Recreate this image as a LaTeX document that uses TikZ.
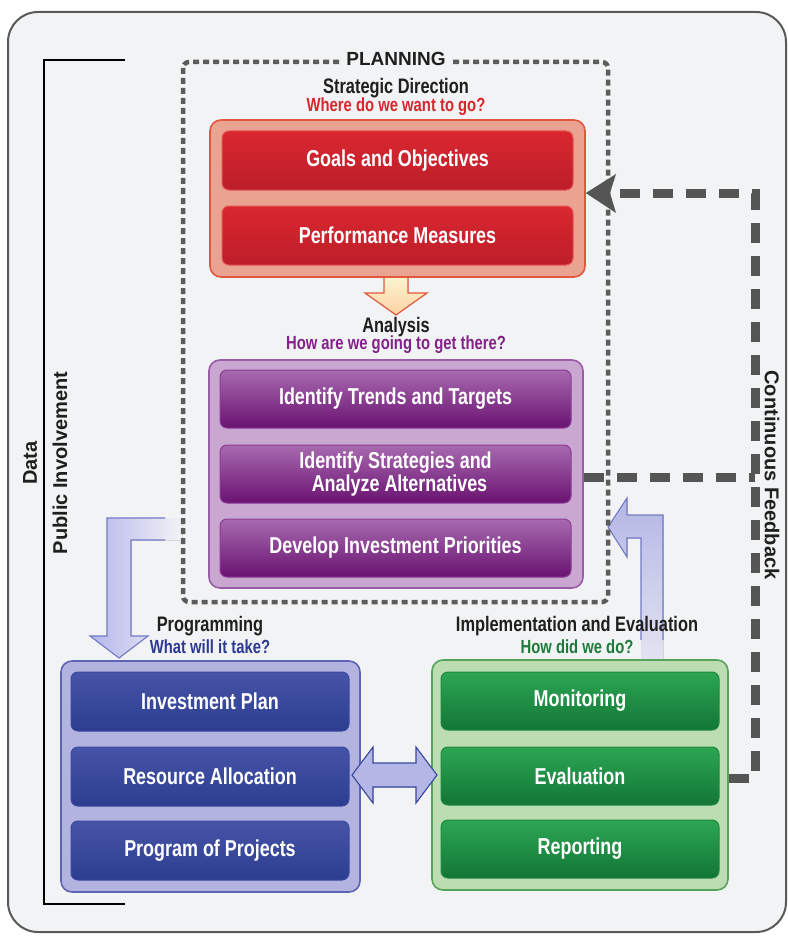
\documentclass[tikz,border=0pt]{standalone}
\usepackage{fontspec}
\setmainfont{Liberation Sans}
\newfontfamily\cond[FakeStretch=0.78]{Liberation Sans}
\usetikzlibrary{calc}
\definecolor{bg}{HTML}{F2F3F4}
\definecolor{frame}{HTML}{5A5A5A}
\definecolor{dotc}{HTML}{5C5C5C}
\definecolor{fbc}{HTML}{555555}
\definecolor{redfill}{HTML}{EAA391}
\definecolor{redborder}{HTML}{E2583F}
\definecolor{redtop}{HTML}{DA2730}
\definecolor{redbot}{HTML}{BC1E29}
\definecolor{redline}{HTML}{E65454}
\definecolor{redtxt}{HTML}{D8262E}
\definecolor{purfill}{HTML}{C9A7D1}
\definecolor{purborder}{HTML}{9A5CA7}
\definecolor{purtop}{HTML}{A76AAF}
\definecolor{purbot}{HTML}{6A1271}
\definecolor{purline}{HTML}{8C3C96}
\definecolor{purtxt}{HTML}{85218B}
\definecolor{blufill}{HTML}{B3B3DF}
\definecolor{bluborder}{HTML}{5F63B6}
\definecolor{blutop}{HTML}{4654A8}
\definecolor{blubot}{HTML}{2C3D8F}
\definecolor{bluline}{HTML}{3A48A0}
\definecolor{blutxt}{HTML}{2D3A94}
\definecolor{grnfill}{HTML}{BBDDB1}
\definecolor{grnborder}{HTML}{56A45A}
\definecolor{grntop}{HTML}{2CA653}
\definecolor{grnbot}{HTML}{127636}
\definecolor{grnline}{HTML}{1E8A40}
\definecolor{grntxt}{HTML}{1E7B3B}
\definecolor{lav}{HTML}{B4B6E6}
\definecolor{lavline}{HTML}{7479C6}
\definecolor{cream}{HTML}{FAF8D2}
\tikzset{
  ttl/.style={font=\cond\bfseries\fontsize{21}{23}\selectfont, text=black!88, inner sep=0pt},
  subttl/.style={font=\cond\bfseries\fontsize{19}{21}\selectfont, inner sep=0pt},
  sidetxt/.style={font=\bfseries\fontsize{20}{22}\selectfont, text=black!88, inner sep=0pt},
  boxtxt/.style={font=\cond\bfseries\fontsize{23}{23}\selectfont, text=white, align=center,
     rounded corners=7pt, line width=1pt, inner sep=0pt},
  redin/.style={boxtxt, draw=redline, top color=redtop, bottom color=redbot},
  purin/.style={boxtxt, draw=purline, top color=purtop, bottom color=purbot},
  bluin/.style={boxtxt, draw=bluline, top color=blutop, bottom color=blubot},
  grnin/.style={boxtxt, draw=grnline, top color=grntop, bottom color=grnbot},
  outerbox/.style={rounded corners=11pt, line width=1.6pt, inner sep=0pt},
  fb/.style={draw=fbc, line width=9pt, dash pattern=on 20pt off 13pt},
  dotbox/.style={draw=dotc, line width=4.5pt, dash pattern=on 6pt off 4pt, rounded corners=6pt},
}
\begin{document}
\begin{tikzpicture}[x=1pt,y=-1pt]
\useasboundingbox (0,0) rectangle (787,936);
\fill[white] (0,0) rectangle (787,936);
% frame
\draw[frame, line width=2pt, fill=bg, rounded corners=30pt] (8,12) rectangle (786,932);

% left bracket
\coordinate (brT) at (125,60);
\coordinate (brB) at (125,904);
\draw[black, line width=2.2pt] (brT) -- (44,60) -- (44,904) -- (brB);
\node[sidetxt, rotate=90] (data) at (30,463) {Data};
\node[sidetxt, rotate=90] (pubinv) at (60,463) {Public Involvement};

% down arrow (red -> analysis)
\filldraw[draw=redborder, line width=1.2pt, top color=cream, bottom color=orange!35!white]
  (384,272) -- (384,293) -- (365,293) -- (396,315) -- (427,293) -- (408,293) -- (408,272);

% red group
\node[outerbox, fill=redfill, draw=redborder, minimum width=375pt, minimum height=157pt] (redbox) at (397.5,198.5) {};
\node[redin, minimum width=351pt, minimum height=59pt] (goals) at (397.5,160.5) {Goals and Objectives};
\node[redin, minimum width=351pt, minimum height=59pt] (perf) at (397.5,235.5) {Performance Measures};

% purple group
\node[outerbox, fill=purfill, draw=purborder, minimum width=374pt, minimum height=228pt] (purbox) at (396,474) {};
\node[purin, minimum width=351pt, minimum height=58pt] (trends) at (395.5,399) {Identify Trends and Targets};
\node[purin, minimum width=351pt, minimum height=58pt] (strat) at (395.5,474) {Identify Strategies and\\\hspace*{8pt}Analyze Alternatives};
\node[purin, minimum width=351pt, minimum height=58pt] (invest) at (395.5,548) {Develop Investment Priorities};

% left bent arrow (analysis -> programming)
\fill[left color=lav!90!blue!80!white, right color=bg]
  (182,518) -- (107,518) -- (107,636) -- (90,636) -- (119,658) -- (148,636) -- (131,636) -- (131,540) -- (182,540) -- cycle;
\draw[lavline, line width=1.1pt, line join=miter]
  (165,518) -- (107,518) -- (107,636) -- (90,636) -- (119,658) -- (148,636) -- (131,636) -- (131,540) -- (165,540);

% right bent arrow (implementation -> analysis)
\fill[top color=lav, bottom color=lav!25!bg]
  (608,527) -- (627,498) -- (627,515) -- (663,515) -- (663,660) -- (641,660) -- (641,538) -- (627,538) -- (627,557) -- cycle;
\draw[lavline, line width=1.1pt, line join=miter]
  (663,640) -- (663,515) -- (627,515) -- (627,498) -- (608,527) -- (627,557) -- (627,538) -- (641,538) -- (641,640);

% planning dotted box
\draw[dotbox] (183,62) rectangle (608,602);
\node[font=\bfseries\fontsize{19}{21}\selectfont, text=black!88, fill=bg, inner xsep=5pt, inner ysep=1pt] (planning) at (396,59) {PLANNING};
\node[ttl] (stratdir) at (396,88) {Strategic Direction};
\node[subttl, text=redtxt] (stratq) at (396,107) {Where do we want to go?};
\node[ttl] (analysis) at (396,327) {Analysis};
\node[subttl, text=purtxt] (analysisq) at (396,345) {How are we going to get there?};

% labels bottom
\node[ttl] (prog) at (210,626) {Programming};
\node[subttl, text=blutxt] (progq) at (210,647) {What will it take?};
\node[ttl] (impl) at (577,626) {Implementation and Evaluation};
\node[subttl, text=grntxt] (implq) at (577,647) {How did we do?};

% blue group
\node[outerbox, fill=blufill, draw=bluborder, minimum width=299pt, minimum height=231pt] (blubox) at (210.5,776.5) {};
\node[bluin, minimum width=278pt, minimum height=59pt] (iplan) at (210,701.5) {Investment Plan};
\node[bluin, minimum width=278pt, minimum height=59pt] (resalloc) at (210,776.5) {Resource Allocation};
\node[bluin, minimum width=278pt, minimum height=59pt] (progproj) at (210,850.5) {Program of Projects};

% green group
\node[outerbox, fill=grnfill, draw=grnborder, minimum width=296pt, minimum height=230pt] (grnbox) at (580,775) {};
\node[grnin, minimum width=278pt, minimum height=58pt] (monit) at (580,701) {Monitoring};
\node[grnin, minimum width=278pt, minimum height=58pt] (evalu) at (580,776) {Evaluation};
\node[grnin, minimum width=278pt, minimum height=58pt] (report) at (580,849) {Reporting};

% double arrow
\filldraw[draw=bluline, line width=1.1pt, left color=lav, middle color=cream, right color=lav, line join=miter]
  (352,775) -- (373,747) -- (373,763) -- (416,763) -- (416,747) -- (437,775) -- (416,803) -- (416,787) -- (373,787) -- (373,803) -- cycle;

% continuous feedback dashed line
\coordinate (fbbot) at (755,778);
\coordinate (fbtop) at (755,193);
\coordinate (fbmid) at (755,477);
\coordinate (fbhead) at (612,193);
\draw[fb] (grnbox.east |- fbbot) -- (fbbot) -- (fbtop) -- (fbhead);
\draw[fb] (purbox.east |- fbmid) -- (fbmid);
\fill[fbc] (redbox.east |- fbtop) -- (616,174) -- (610,193) -- (616,213) -- cycle;
\node[sidetxt, rotate=-90] (contfb) at (772,475) {Continuous Feedback};
\end{tikzpicture}
\end{document}
